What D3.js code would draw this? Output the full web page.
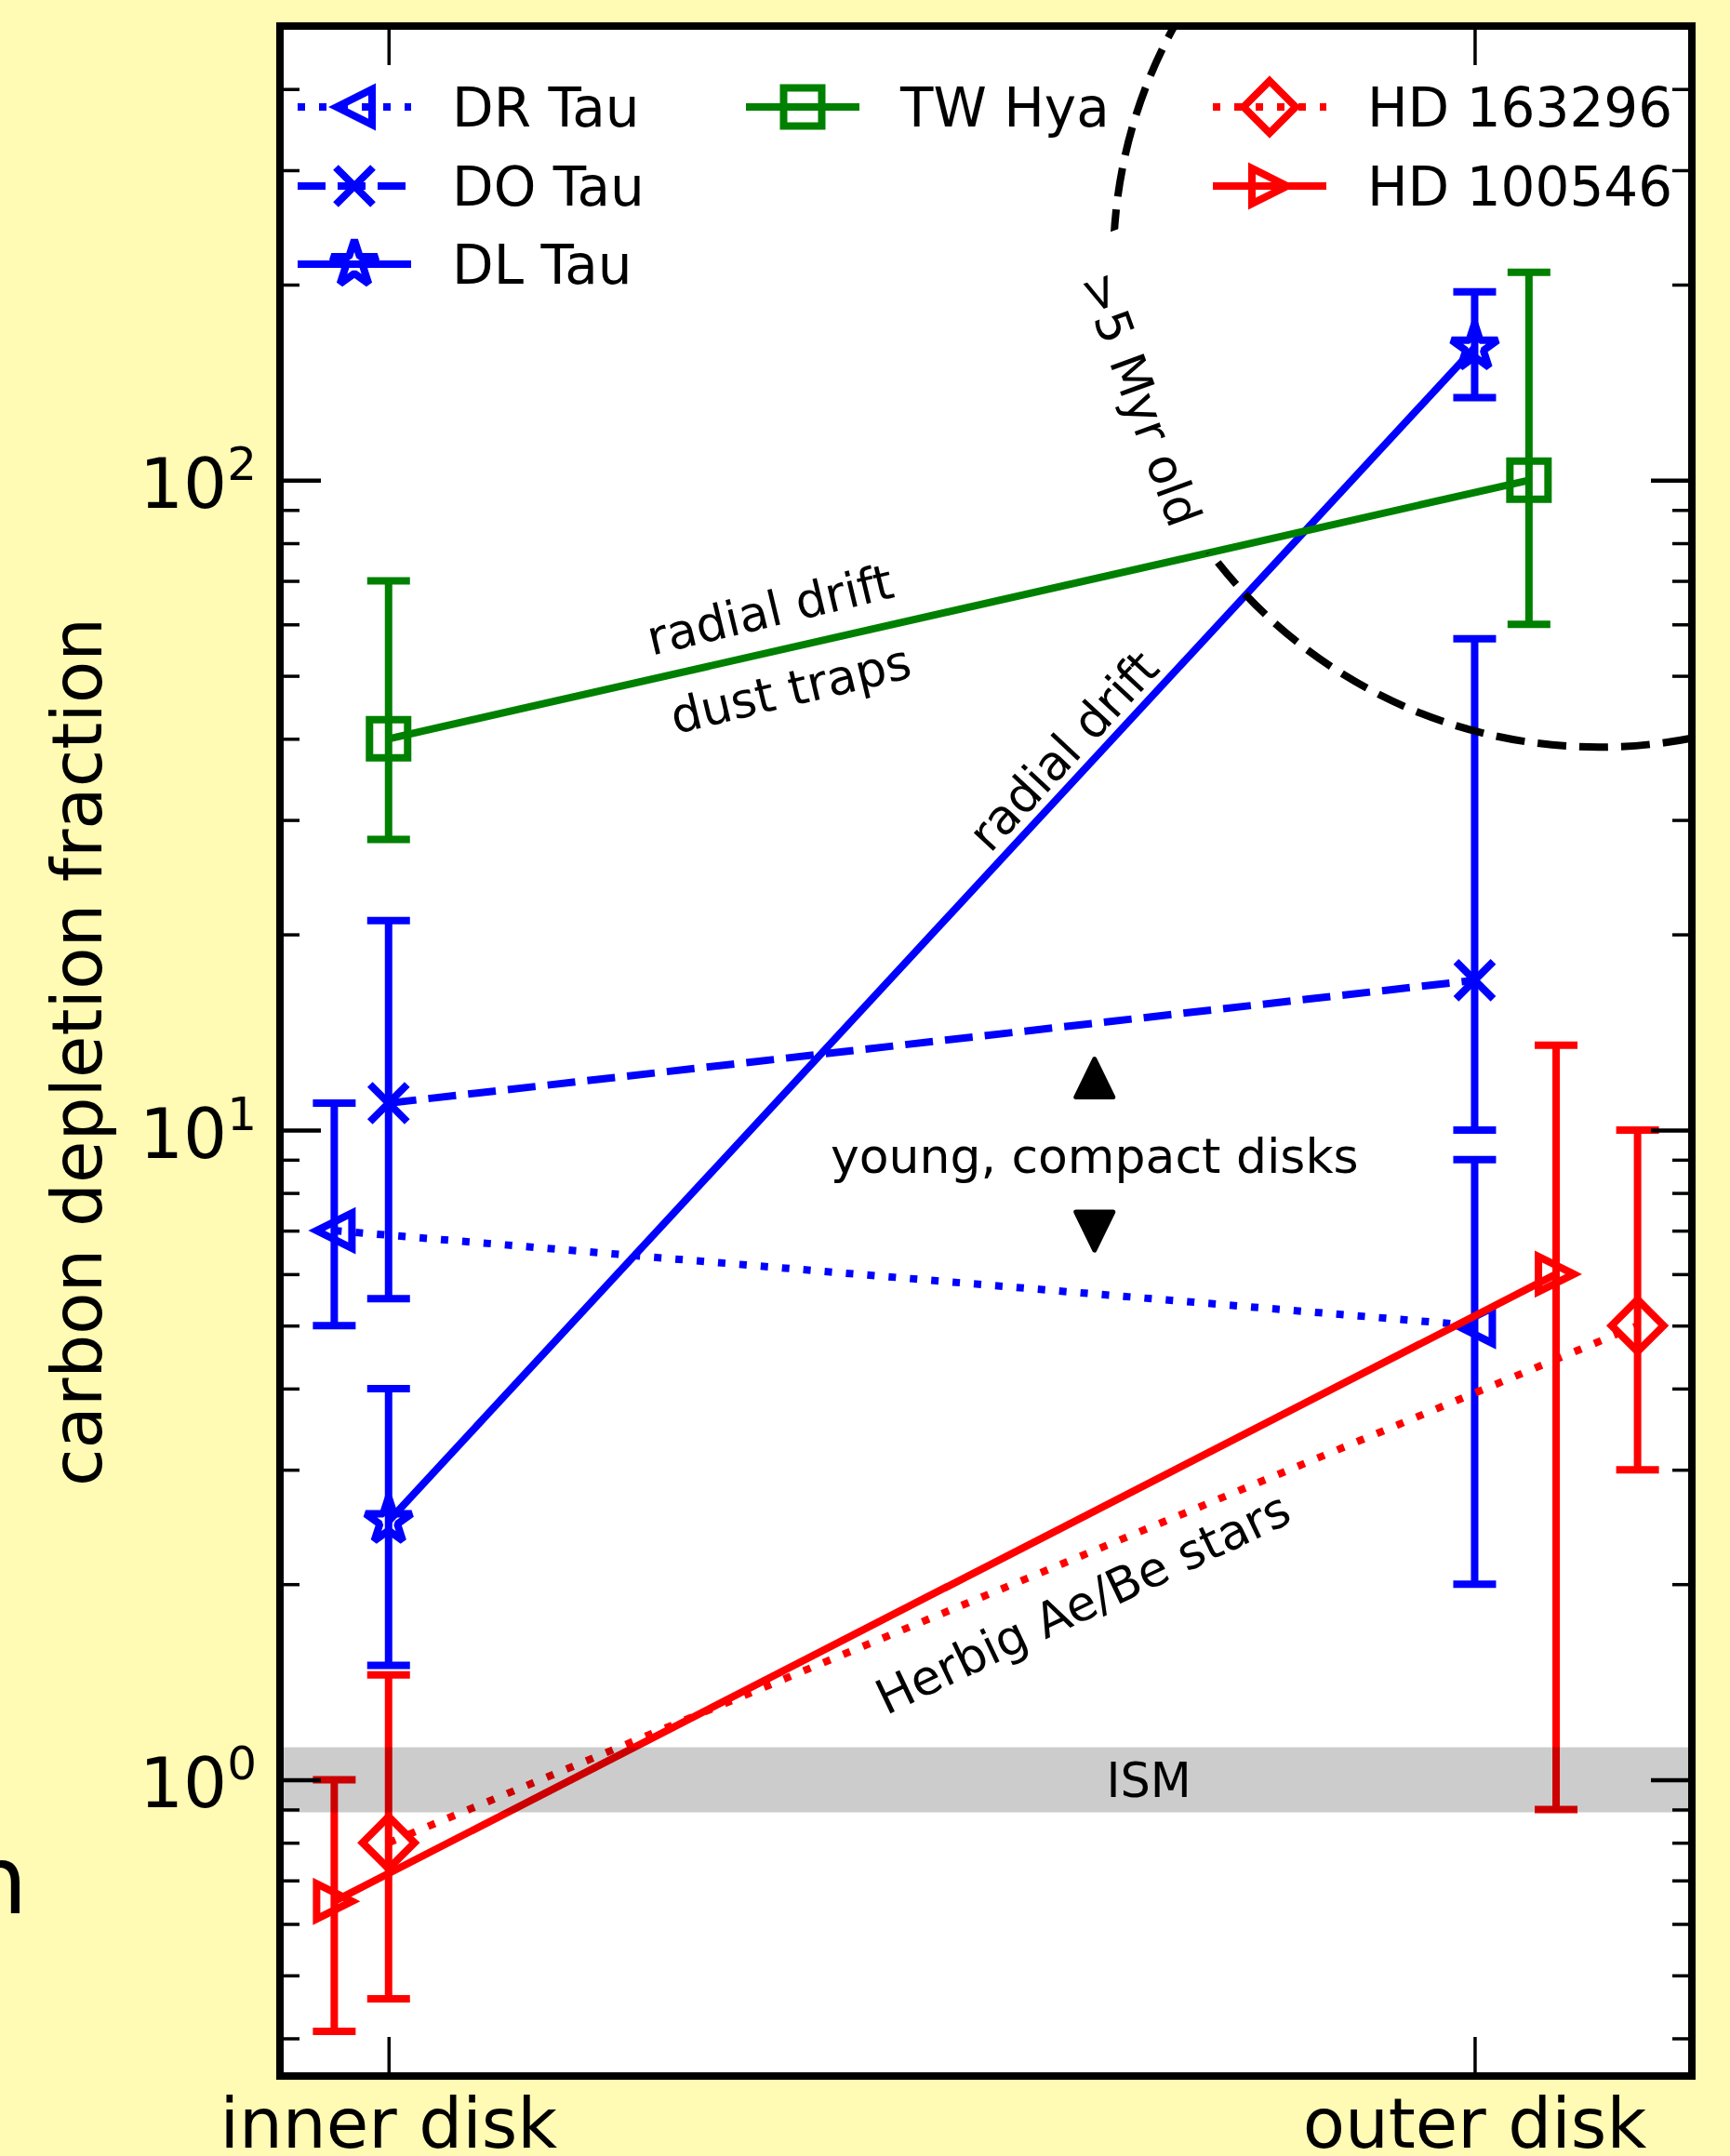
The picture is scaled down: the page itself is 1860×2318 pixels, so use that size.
<!DOCTYPE html>
<html>
<head>
<meta charset="utf-8">
<script src="https://cdn.jsdelivr.net/npm/d3@7"></script>
<style>
  body { margin: 0; background: #fffab4; }
  svg { display: block; }
  text { font-family: "DejaVu Sans", sans-serif; fill: #000; }
</style>
</head>
<body>
<svg id="canvas" width="1860" height="2318"></svg>
<script>
// ---- data ----
var categories = ["inner disk", "outer disk"];
var names   = ["DR Tau", "DO Tau", "DL Tau", "TW Hya", "HD 163296", "HD 100546"];
var xPos    = [[-0.05, 1.0], [0, 1.0], [0, 1.0], [0, 1.05], [0, 1.15], [-0.05, 1.075]];
var values  = [[7, 5], [11, 17], [2.5, 160], [40, 100], [0.8, 5], [0.65, 6]];
var lower   = [[5, 2], [5.5, 10], [1.5, 134], [28, 60], [0.46, 3], [0.41, 0.9]];
var upper   = [[11, 9], [21, 57], [4, 195], [70, 209], [1.45, 10], [1.0, 13.5]];
var colors  = ["#0000ff", "#0000ff", "#0000ff", "#008000", "#ff0000", "#ff0000"];
var markers = ["<", "x", "*", "s", "D", ">"];
var dashes  = ["8,15", "30,13", null, null, "8,15", null];

var majorTicks = [1, 10, 100];
var majorExps  = ["0", "1", "2"];
var minorTicks = [0.4, 0.5, 0.6, 0.7, 0.8, 0.9, 2, 3, 4, 5, 6, 7, 8, 9,
                  20, 30, 40, 50, 60, 70, 80, 90, 200, 300, 400];
var ismBand = [0.891, 1.122];

var svg = d3.select("#canvas"),
    margin = {left: 301, right: 41, top: 28, bottom: 86},
    width = 1860 - margin.left - margin.right,
    height = 2318 - margin.top - margin.bottom;

var x = d3.scaleLinear().domain([-0.1, 1.2]).range([0, width]);
var y = d3.scaleLog().domain([0.35, 500]).range([height, 0]);

// stray glyph of the neighbouring panel at the far left
svg.append("text")
  .attr("x", -35).attr("y", 2057)
  .style("font-size", "102px")
  .text("n");

var root = svg.append("g")
  .attr("transform", "translate(" + margin.left + "," + margin.top + ")");

root.append("rect")
  .attr("width", width).attr("height", height)
  .style("fill", "#fff");

var defs = root.append("defs");
defs.append("clipPath")
  .attr("id", "plot-clip")
  .append("rect")
  .attr("width", width).attr("height", height);

// where the ">5 Myr old" label sits, the dashed curve is hidden
var oldPos = "translate(" + x(0.693) + "," + y(133.4) + ") rotate(70)";
var oldMask = defs.append("mask").attr("id", "old-mask")
  .attr("maskUnits", "userSpaceOnUse")
  .attr("x", 0).attr("y", 0).attr("width", width).attr("height", height);
oldMask.append("rect")
  .attr("width", width).attr("height", height)
  .style("fill", "#fff");
oldMask.append("rect")
  .attr("transform", oldPos)
  .attr("x", -180).attr("y", -40).attr("width", 360).attr("height", 80)
  .style("fill", "#000");

var plot = root.append("g").attr("clip-path", "url(#plot-clip)");

/*
  Series: error bars, connecting line, open markers
*/
names.forEach(function(name, i) {
  var s = plot.append("g");
  var pts = values[i].map(function(v, j) {
    return {x: xPos[i][j], y: v, lo: lower[i][j], hi: upper[i][j]};
  });

  s.selectAll("line.err")
    .data(pts).enter().append("line")
    .attr("class", "err")
    .attr("x1", function(d) { return x(d.x); })
    .attr("x2", function(d) { return x(d.x); })
    .attr("y1", function(d) { return y(d.lo); })
    .attr("y2", function(d) { return y(d.hi); })
    .style("stroke", colors[i])
    .style("stroke-width", 8);

  ["lo", "hi"].forEach(function(k) {
    s.selectAll("line.cap-" + k)
      .data(pts).enter().append("line")
      .attr("class", "cap-" + k)
      .attr("x1", function(d) { return x(d.x) - 23; })
      .attr("x2", function(d) { return x(d.x) + 23; })
      .attr("y1", function(d) { return y(d[k]); })
      .attr("y2", function(d) { return y(d[k]); })
      .style("stroke", colors[i])
      .style("stroke-width", 8);
  });

  s.append("path")
    .datum(pts)
    .attr("d", d3.line().x(function(d) { return x(d.x); }).y(function(d) { return y(d.y); }))
    .style("fill", "none")
    .style("stroke", colors[i])
    .style("stroke-width", 8)
    .style("stroke-dasharray", dashes[i]);

  s.selectAll("path.mk")
    .data(pts).enter().append("path")
    .attr("class", "mk")
    .attr("transform", function(d) { return "translate(" + x(d.x) + "," + y(d.y) + ")"; })
    .attr("d", markerPath(markers[i]))
    .style("fill", "none")
    .style("stroke", colors[i])
    .style("stroke-width", 8)
    .style("stroke-linejoin", markers[i] === "*" ? "bevel" : "miter");
});

/*
  Annotations
*/
plot.append("circle")
  .attr("cx", x(1.1144)).attr("cy", y(217))
  .attr("r", 522)
  .attr("mask", "url(#old-mask)")
  .style("fill", "none")
  .style("stroke", "#000")
  .style("stroke-width", 8)
  .style("stroke-dasharray", "31,14");

plot.append("text")
  .attr("transform", oldPos)
  .attr("text-anchor", "middle").attr("dy", "0.36em")
  .style("font-size", "52px")
  .text(">5 Myr old");

function rotLabel(txt, xv, yv, angle) {
  plot.append("text")
    .attr("transform", "translate(" + x(xv) + "," + y(yv) + ") rotate(" + angle + ")")
    .attr("text-anchor", "middle").attr("dy", "0.36em")
    .style("font-size", "52px")
    .text(txt);
}
rotLabel("radial drift", 0.351, 63.3, -13.5);
rotLabel("dust traps", 0.370, 47.8, -13.5);
rotLabel("radial drift", 0.621, 38.4, -47);
rotLabel("Herbig Ae/Be stars", 0.639, 1.874, -25.5);

plot.append("text")
  .attr("x", x(0.65)).attr("y", y(8.6))
  .attr("text-anchor", "middle")
  .style("font-size", "52px")
  .text("young, compact disks");

[[12.0, 1], [7.0, -1]].forEach(function(t) {
  plot.append("path")
    .attr("transform", "translate(" + x(0.65) + "," + y(t[0]) + ") scale(1," + t[1] + ")")
    .attr("d", "M0,-21 L-20,20 L20,20 Z")
    .style("fill", "#000")
    .style("stroke", "#000")
    .style("stroke-width", 5)
    .style("stroke-linejoin", "round");
});

// ISM band sits on top of everything
plot.append("rect")
  .attr("x", 0).attr("width", width)
  .attr("y", y(ismBand[1]))
  .attr("height", y(ismBand[0]) - y(ismBand[1]))
  .style("fill", "#000")
  .style("fill-opacity", 0.2);

plot.append("text")
  .attr("x", x(0.70)).attr("y", y(1))
  .attr("text-anchor", "middle").attr("dy", "0.36em")
  .style("font-size", "51px")
  .text("ISM");

/*
  Axes: ticks on all four sides, pointing inwards
*/
function tickAxis(axis, vals, len, sw, tr) {
  var a = root.append("g")
    .attr("transform", tr)
    .call(axis.tickValues(vals).tickSize(len).tickFormat(""));
  a.select(".domain").remove();
  a.selectAll(".tick line").style("stroke", "#000").style("stroke-width", sw);
}
tickAxis(d3.axisLeft(y), majorTicks, -44, 4.5, "translate(0,0)");
tickAxis(d3.axisLeft(y), minorTicks, -21, 3.5, "translate(0,0)");
tickAxis(d3.axisRight(y), majorTicks, -44, 4.5, "translate(" + width + ",0)");
tickAxis(d3.axisRight(y), minorTicks, -21, 3.5, "translate(" + width + ",0)");
tickAxis(d3.axisBottom(x), [0, 1], -42, 3.5, "translate(0," + height + ")");
tickAxis(d3.axisTop(x), [0, 1], -42, 3.5, "translate(0,0)");

root.append("rect")
  .attr("width", width).attr("height", height)
  .style("fill", "none")
  .style("stroke", "#000")
  .style("stroke-width", 8);

var yl = root.selectAll("text.ylab")
  .data(majorTicks).enter().append("text")
  .attr("class", "ylab")
  .attr("x", -25)
  .attr("y", function(d) { return y(d) + 30; })
  .attr("text-anchor", "end")
  .style("font-size", "74px");
yl.append("tspan").text("10");
yl.append("tspan")
  .attr("dy", -30)
  .style("font-size", "50px")
  .text(function(d, i) { return majorExps[i]; });

root.selectAll("text.xlab")
  .data(categories).enter().append("text")
  .attr("class", "xlab")
  .attr("x", function(d, i) { return x(i); })
  .attr("y", height + 77)
  .attr("text-anchor", "middle")
  .style("font-size", "74px")
  .text(function(d) { return d; });

svg.append("text")
  .attr("transform", "translate(109,1131) rotate(-90)")
  .attr("text-anchor", "middle")
  .style("font-size", "74px")
  .text("carbon depletion fraction");

/*
  Legend (three columns, no frame)
*/
var legendCols = [[0, 1, 2], [3], [4, 5]];
var colX = [320, 802, 1304];
var rowY = [115, 200, 284];
legendCols.forEach(function(col, c) {
  col.forEach(function(si, r) {
    var lg = svg.append("g")
      .attr("transform", "translate(" + colX[c] + "," + rowY[r] + ")");
    lg.append("line")
      .attr("x1", 0).attr("x2", 122)
      .style("stroke", colors[si])
      .style("stroke-width", 8)
      .style("stroke-dasharray", dashes[si]);
    lg.append("path")
      .attr("transform", "translate(61,0)")
      .attr("d", markerPath(markers[si]))
      .style("fill", "none")
      .style("stroke", colors[si])
      .style("stroke-width", 8)
      .style("stroke-linejoin", markers[si] === "*" ? "bevel" : "miter");
    lg.append("text")
      .attr("x", 166).attr("y", 21)
      .style("font-size", "58px")
      .text(names[si]);
  });
});

/*
  Marker shapes
*/
function markerPath(type) {
  var r;
  switch (type) {
    case "<": r = 19; return "M" + (-r) + ",0L" + r + "," + (-r) + "L" + r + "," + r + "Z";
    case ">": r = 19; return "M" + r + ",0L" + (-r) + "," + (-r) + "L" + (-r) + "," + r + "Z";
    case "s": r = 20.5; return "M" + (-r) + "," + (-r) + "H" + r + "V" + r + "H" + (-r) + "Z";
    case "D": r = 28; return "M0," + (-r) + "L" + r + ",0L0," + r + "L" + (-r) + ",0Z";
    case "x": r = 20; return "M" + (-r) + "," + (-r) + "L" + r + "," + r + "M" + r + "," + (-r) + "L" + (-r) + "," + r;
    case "*":
      var R = 26, ri = R * 0.381966, d = "";
      for (var k = 0; k < 10; k++) {
        var rad = k % 2 === 0 ? R : ri;
        var a = -Math.PI / 2 + k * Math.PI / 5;
        d += (k === 0 ? "M" : "L") + (rad * Math.cos(a)) + "," + (rad * Math.sin(a));
      }
      return d + "Z";
  }
}
</script>
</body>
</html>
